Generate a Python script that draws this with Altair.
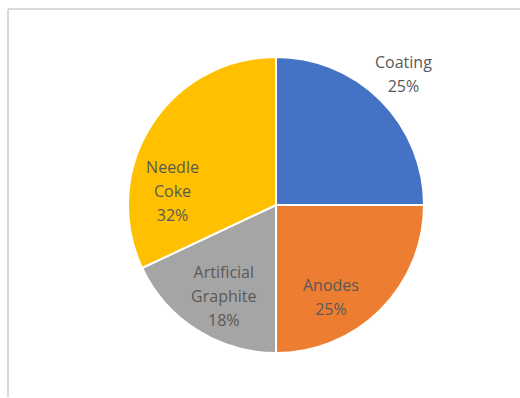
import altair as alt
import pandas as pd

categories = ["Coating", "Anodes", "Artificial Graphite", "Needle Coke"]
shares = [25, 25, 18, 32]
label_lines = [["Coating", "25%"], ["Anodes", "25%"], ["Artificial", "Graphite", "18%"], ["Needle", "Coke", "32%"]]
colors = ["#4472C4", "#ED7D31", "#A5A5A5", "#FFC000"]

df = pd.DataFrame({
    "category": categories,
    "share": shares,
    "order": list(range(len(categories))),
    "label": ["\n".join(l) for l in label_lines],
})

W, H = 488, 384
total = sum(shares)
theta_scale = alt.Scale(domain=[0, total])

pie = alt.Chart(df).mark_arc(radius=148, stroke="white", strokeWidth=2).encode(
    theta=alt.Theta("share:Q", stack=True, scale=theta_scale),
    order=alt.Order("order:Q"),
    color=alt.Color("category:N", scale=alt.Scale(domain=categories, range=colors), legend=None),
)

label_base = alt.Chart(df).transform_window(
    cum="sum(share)", sort=[alt.SortField("order")], frame=[None, 0]
).transform_calculate(mid="datum.cum - datum.share / 2")


def label_layer(cat, radius, dx, dy):
    return label_base.transform_filter(alt.datum.category == cat).mark_text(
        radius=radius, dx=dx, dy=dy, fontSize=16, font="Open Sans", color="#595959",
        lineBreak="\n", lineHeight=24, align="center", baseline="middle",
    ).encode(
        theta=alt.Theta("mid:Q", stack=None, scale=theta_scale),
        text="label:N",
    )


labels = [
    label_layer("Coating", 183, -2, -13),
    label_layer("Anodes", 106, -20, 6),
    label_layer("Artificial Graphite", 103, 3, -19),
    label_layer("Needle Coke", 106, -14, 20),
]

frame_top = alt.Chart(df).mark_rule(color="#D9D9D9", strokeWidth=2).encode(
    x=alt.value(-24), x2=alt.value(W + 40), y=alt.value(-4)
)
frame_left = alt.Chart(df).mark_rule(color="#D9D9D9", strokeWidth=2).encode(
    x=alt.value(-24), y=alt.value(-4), y2=alt.value(H + 20)
)
title_tail = alt.Chart(df).mark_text(
    text="g", fontSize=22, fontWeight="bold", font="Open Sans", color="#1F3864", align="left", baseline="alphabetic"
).encode(x=alt.value(6), y=alt.value(-23))

chart = alt.layer(frame_top, frame_left, title_tail, pie, *labels).properties(
    width=W, height=H,
    padding={"left": 32, "top": 13, "right": 0, "bottom": 0},
    autosize=alt.AutoSizeParams(type="none"),
).configure_view(stroke=None)

chart.save("out.html", embed_options={"renderer": "svg", "actions": False})
